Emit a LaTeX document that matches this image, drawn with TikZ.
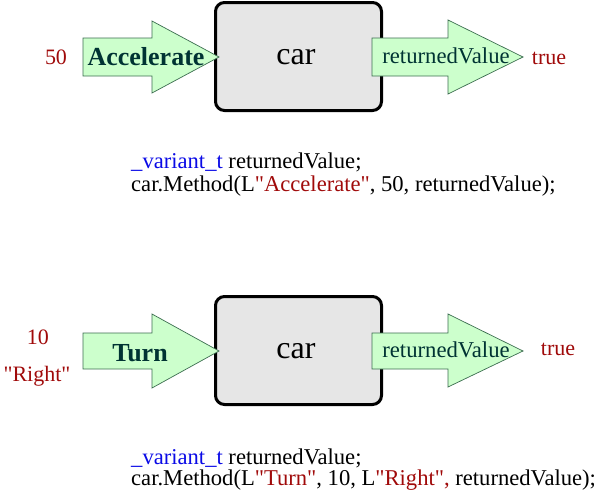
\documentclass[tikz,border=0pt]{standalone}
\usepackage{fontspec}
\setmainfont{Liberation Serif}[Ligatures=TeXOff]
\definecolor{valred}{RGB}{160,10,10}
\definecolor{kwblue}{RGB}{10,10,230}
\definecolor{arrfill}{RGB}{204,255,204}
\definecolor{arrdraw}{RGB}{60,110,80}
\definecolor{arrtext}{RGB}{0,51,51}
\definecolor{boxfill}{RGB}{230,230,230}
\begin{document}
\begin{tikzpicture}[x=1pt,y=-1pt,
  carbox/.style={draw=black,line width=3pt,fill=boxfill,rounded corners=9pt,minimum width=166pt,minimum height=108pt,inner sep=0pt},
  cartext/.style={inner sep=0pt,font=\fontsize{32}{32}\selectfont},
  arrowshape/.style={draw=arrdraw,fill=arrfill,line width=0.7pt,line join=miter},
  intext/.style={text=arrtext,inner sep=0pt},
  val/.style={text=valred,font=\fontsize{22}{22}\selectfont,inner sep=0pt},
  code/.style={anchor=west,inner sep=0pt,font=\fontsize{22.6}{24}\selectfont}
]
\useasboundingbox (0,0) rectangle (600,493);

% ---------- top ----------
\node[carbox] (car1) at (298.5,56.5) {};
\node[cartext] (car1t) at (296,57) {car};
\path[arrowshape] (83,38) coordinate (a1s) -- (152,38) -- (152,21) -- (219,57) coordinate (a1t) -- (152,93) -- (152,76) -- (83,76) -- cycle;
\node[intext,font=\bfseries\fontsize{26}{26}\selectfont] (acc) at (146,57) {Accelerate};
\path[arrowshape] (372,38) coordinate (r1s) -- (448,38) -- (448,20) -- (523,57) coordinate (r1t) -- (448,94) -- (448,76) -- (372,76) -- cycle;
\node[intext,font=\fontsize{22.7}{23}\selectfont] (rv1) at (446,56) {returnedValue};
\node[val] (v50) at (56,57) {50};
\node[val] (true1) at (549,58) {true};
\node[code] (c1a) at (131,162) {\textcolor{kwblue}{\_variant\_t} returnedValue;};
\node[code] (c1b) at (131,186) {car.Method(L\textcolor{valred}{"Accelerate"}, 50, returnedValue);};

% ---------- bottom ----------
\node[carbox] (car2) at (298.5,350.5) {};
\node[cartext] (car2t) at (296,351) {car};
\path[arrowshape] (83,333) coordinate (a2s) -- (152,333) -- (152,314) -- (219,351) coordinate (a2t) -- (152,388) -- (152,369) -- (83,369) -- cycle;
\node[intext,font=\bfseries\fontsize{26}{26}\selectfont] (turn) at (140,353) {Turn};
\path[arrowshape] (372,333) coordinate (r2s) -- (448,333) -- (448,314) -- (523,351) coordinate (r2t) -- (448,387) -- (448,369) -- (372,369) -- cycle;
\node[intext,font=\fontsize{22.7}{23}\selectfont] (rv2) at (446,350) {returnedValue};
\node[val] (v10) at (38,337) {10};
\node[val] (vright) at (37,376) {"Right"};
\node[val] (true2) at (558,349) {true};
\node[code] (c2a) at (131,458) {\textcolor{kwblue}{\_variant\_t} returnedValue;};
\node[code] (c2b) at (131,480) {car.Method(L\textcolor{valred}{"Turn"}, 10, L\textcolor{valred}{"Right",} returnedValue);};
\end{tikzpicture}
\end{document}
